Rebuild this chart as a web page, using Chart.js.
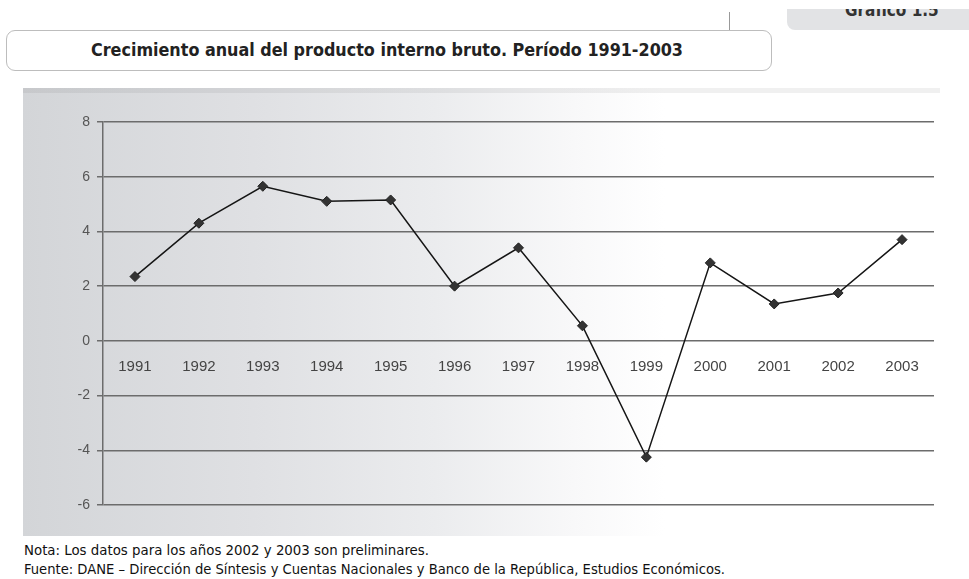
<!DOCTYPE html>
<html>
<head>
<meta charset="utf-8">
<script src="https://cdn.jsdelivr.net/npm/chart.js@4.4.0/dist/chart.umd.min.js"></script>
<style>
  body { margin: 0; width: 969px; height: 579px; background: #fff; position: relative; overflow: hidden;
         font-family: "Liberation Sans Narrow", "DejaVu Sans Condensed", "Liberation Sans", sans-serif; }
  #tabclip { position: absolute; left: 787px; top: 9px; width: 200px; height: 21px; overflow: hidden;
             background: #e2e3e5; border-bottom-left-radius: 8px; }
  #tabtext { position: absolute; left: 58px; top: -9px; font-weight: bold; font-size: 17px; color: #333; white-space: nowrap; }
  #vline { position: absolute; left: 729px; top: 12px; width: 1px; height: 18px; background: #999; }
  #titlebox { position: absolute; left: 6px; top: 30px; width: 766px; height: 41px; box-sizing: border-box;
              border: 1px solid #bdbdbd; border-radius: 9px; background: #fff; }
  #title { position: absolute; left: 91px; top: 39px; font-weight: bold; font-size: 18px; color: #222;
           white-space: nowrap; transform-origin: left top; }
  #plot { position: absolute; left: 23px; top: 88px; width: 917px; height: 448px;
          background:
            linear-gradient(to bottom, rgba(0,0,0,0.06) 0px, rgba(0,0,0,0.06) 5px, transparent 5px),
            linear-gradient(to right, #d3d5d8 0%, #dfe0e3 25%, #ebecee 45%, #f8f8f9 60%, #ffffff 70%); }
  .note { position: absolute; left: 24px; font-size: 14px; color: #111; white-space: nowrap; transform-origin: left top; }
</style>
</head>
<body>
<div id="tabclip"><div id="tabtext">Gráfico 1.5</div></div>
<div id="vline"></div>
<div id="titlebox"></div>
<div id="title">Crecimiento anual del producto interno bruto. Período 1991-2003</div>
<div id="plot"><canvas id="chart"></canvas></div>
<div class="note" id="nota" style="top:542px">Nota: Los datos para los años 2002 y 2003 son preliminares.</div>
<div class="note" id="fuente" style="top:561px">Fuente: DANE – Dirección de Síntesis y Cuentas Nacionales y Banco de la República, Estudios Económicos.</div>
<script>
// Crecimiento anual del PIB, 1991-2003 (%)
const years = ['1991', '1992', '1993', '1994', '1995', '1996', '1997', '1998', '1999', '2000', '2001', '2002', '2003'];
const growth = [2.35, 4.3, 5.65, 5.1, 5.15, 2.0, 3.4, 0.55, -4.25, 2.85, 1.35, 1.75, 3.7];
const yTicks = [-6, -4, -2, 0, 2, 4, 6, 8];

// stretch a text block to the width it has in the picture
function fitWidth(id, target) {
    const el = document.getElementById(id);
    const w = el.getBoundingClientRect().width;
    el.style.transform = 'scaleX(' + (target / w) + ')';
}
fitWidth('title', 592);
fitWidth('nota', 405);
fitWidth('fuente', 701);

const gridGrey = '#6c6c6c';

new Chart(document.getElementById('chart'), {
    type: 'line',
    data: {
        labels: years,
        datasets: [{
            data: growth,
            borderColor: '#151515',
            borderWidth: 1.5,
            tension: 0,
            pointStyle: 'rectRot',
            pointRadius: 5,
            pointHoverRadius: 5,
            pointBackgroundColor: '#333',
            pointBorderColor: '#222',
            pointBorderWidth: 1
        }]
    },
    options: {
        responsive: true,
        maintainAspectRatio: false,
        animation: false,
        layout: { padding: { left: 0, right: 3, top: 34, bottom: 31 } },
        plugins: { legend: { display: false }, tooltip: { enabled: false } },
        scales: {
            x: {
                type: 'category',
                position: { y: 0 },             // labels sit just under the zero line
                offset: true,
                grid: { display: false, drawTicks: false, tickLength: 0 },
                border: { display: false },
                ticks: {
                    padding: 17,
                    color: '#444',
                    maxRotation: 0,
                    autoSkip: false,
                    font: { family: '"Liberation Sans", Arial, sans-serif', size: 15 }
                }
            },
            y: {
                min: -6,
                max: 8,
                afterBuildTicks: scale => { scale.ticks = yTicks.map(v => ({ value: v })); },
                afterFit: scale => { scale.width = 80; },
                grid: { color: gridGrey, lineWidth: 1.5, tickLength: 6, drawTicks: true },
                border: { display: true, color: gridGrey, width: 1.5 },
                ticks: {
                    padding: 7,
                    color: '#555',
                    font: { family: '"Liberation Sans", Arial, sans-serif', size: 14 }
                }
            }
        }
    }
});
</script>
</body>
</html>
